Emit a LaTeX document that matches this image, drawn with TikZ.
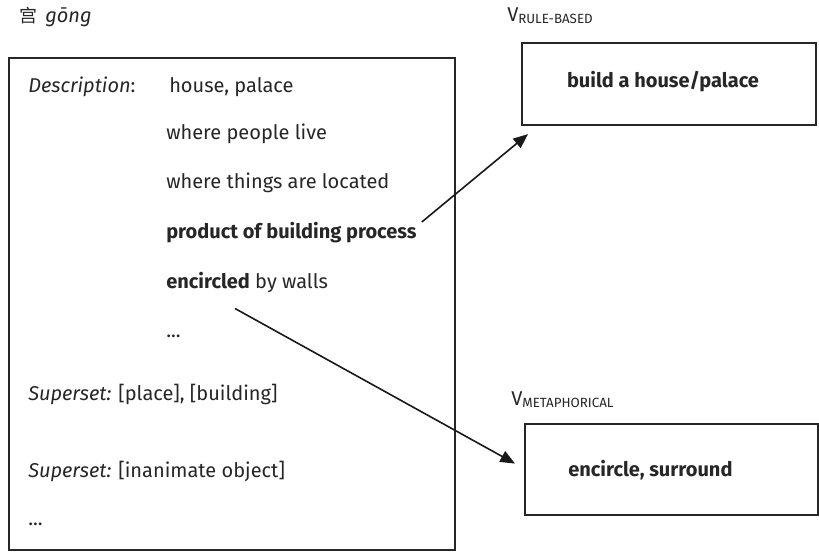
\documentclass[tikz,border=0pt]{standalone}
\usepackage{fontspec}
\setmainfont{Fira Sans}
\newfontfamily\cjk{Noto Sans CJK SC}
\usetikzlibrary{arrows.meta,calc}
\begin{document}
\begin{tikzpicture}[x=0.75pt,y=-0.75pt,
  txt/.style={anchor=west,inner sep=0pt,font=\fontsize{15}{17}\selectfont,text=black!85},
  boxed/.style={draw=black!85,line width=1.6pt,inner sep=0pt,anchor=north west},
  lab/.style={anchor=west,inner sep=0pt,font=\fontsize{15}{17}\selectfont,text=black!85},
  conn/.style={line width=1.2pt,draw=black!90,-{Triangle[length=11pt,width=9pt]}}]
\useasboundingbox (0,0) rectangle (819,552);

% header
\node[lab] (head) at (19,17) {{\cjk\fontsize{13.5}{15}\selectfont 宫}\hspace{6pt}\textit{gōng}};

% big box
\node[boxed,minimum width=334.5pt,minimum height=369pt] (desc) at (8,57) {};

\node[txt] (d0) at (28,87) {\textit{Description}:};
\node[txt] (d1) at (169,87) {house, palace};
\node[txt] (d2) at (166,134) {where people live};
\node[txt] (d3) at (166,183) {where things are located};
\node[txt] (d4) at (166,233) {\textbf{product of building process}};
\node[txt] (d5) at (166,283) {\textbf{encircled} by walls};
\node[txt] (d6) at (166,336) {...};
\node[txt] (s1) at (28,395) {\textit{Superset:} [place], [building]};
\node[txt] (s2) at (28,472) {\textit{Superset:} [inanimate object]};
\node[txt] (s3) at (28,524) {...};

% right top
\node[lab] (vrb) at (507,16) {V\raisebox{-1.5pt}{\fontsize{10}{11}\selectfont RULE-BASED}};
\node[boxed,minimum width=220.5pt,minimum height=61.5pt] (rb) at (521,42) {};
\node[inner sep=0pt,font=\fontsize{15}{17}\selectfont\bfseries,text=black!85] (rbt) at (663,82) {build a house/palace};

% right bottom
\node[lab] (vmet) at (511,400) {V\raisebox{-1.5pt}{\fontsize{10}{11}\selectfont METAPHORICAL}};
\node[boxed,minimum width=219.75pt,minimum height=68.25pt] (mb) at (524,423) {};
\node[txt] (mbt) at (568,470) {\textbf{encircle, surround}};

% connectors
\coordinate (a1s) at ($(d4.east)+(5,-11)$);
\coordinate (a1e) at ($(rb.south west)+(7,8)$);
\draw[conn] (a1s) -- (a1e);
\coordinate (a2s) at ($(d5.south west)+(69,15)$);
\coordinate (a2e) at ($(mb.west)+(-9,-6)$);
\draw[conn] (a2s) -- (a2e);
\end{tikzpicture}
\end{document}
